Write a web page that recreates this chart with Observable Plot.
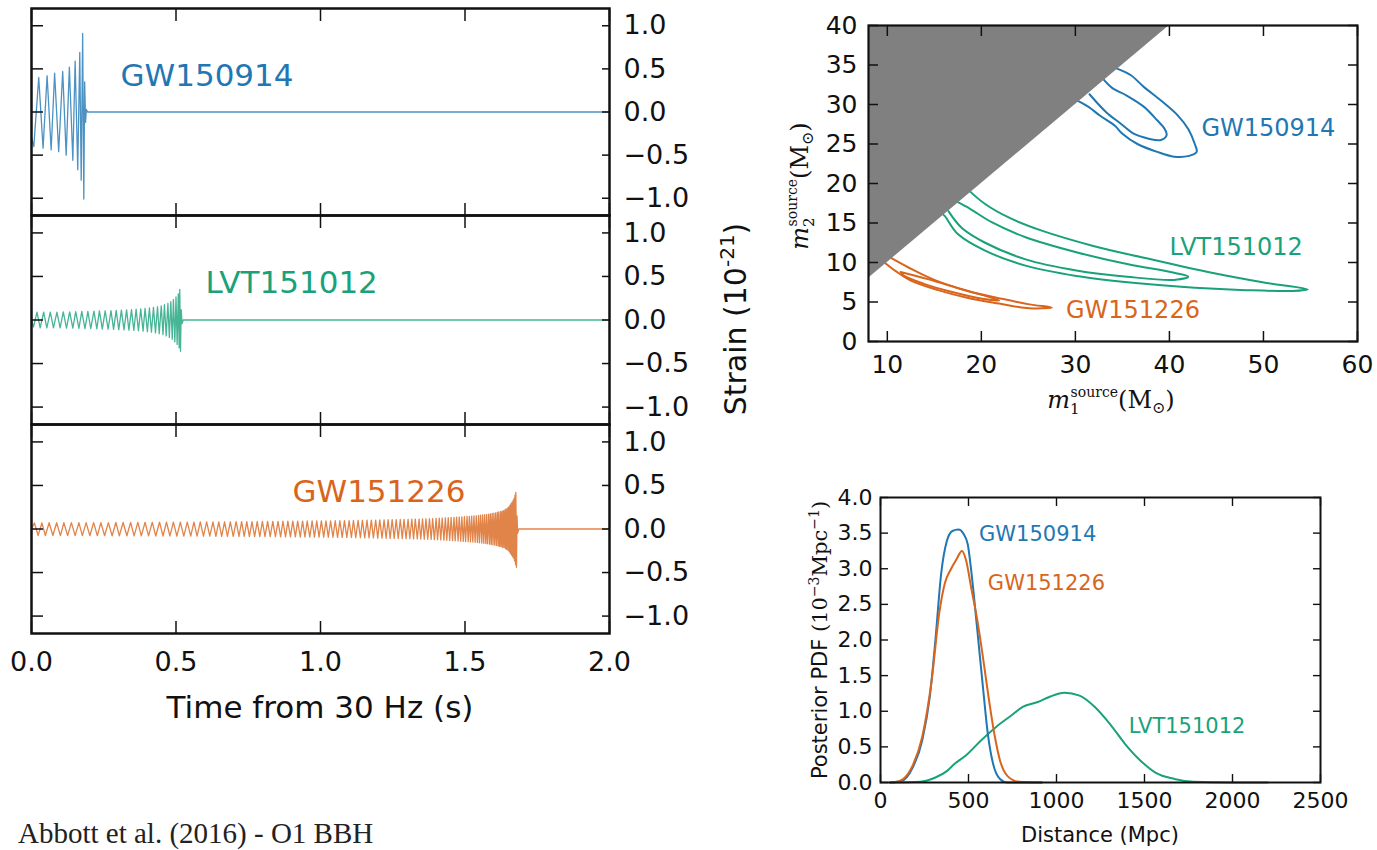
<!DOCTYPE html>
<html><head><meta charset="utf-8">
<script src="https://cdn.jsdelivr.net/npm/d3@7"></script>
<script src="https://cdn.jsdelivr.net/npm/@observablehq/plot@0.6"></script>
<style>
html,body{margin:0;padding:0;background:#fff;}
body{width:1377px;height:850px;overflow:hidden;position:relative;font-family:"DejaVu Sans";}
</style></head><body>
<script>
// ---------------- DATA ----------------
const BLUE = "#1f77b4", GREEN = "#19a27a", ORANGE = "#d9651c";
const waveXTicks = [0, 0.5, 1, 1.5, 2];
const waveYTicks = [-1, -0.5, 0, 0.5, 1];

// GW150914 waveform turning points (time s, strain 1e-21)
const gw150914T = [0, 0.008, 0.025, 0.040, 0.054, 0.068, 0.080, 0.094, 0.108, 0.120, 0.131, 0.143, 0.151, 0.160, 0.167, 0.172, 0.177, 0.181, 0.184, 0.187, 0.190, 0.194, 2.0];
const gw150914H = [-0.30, -0.40, 0.40, -0.42, 0.42, -0.44, 0.45, -0.46, 0.47, -0.50, 0.52, -0.56, 0.59, -0.67, 0.69, -0.79, 0.91, -1.01, 0.35, -0.12, 0.03, 0, 0];

// LVT151012 waveform turning points
const lvt151012T = [0, 0.007, 0.019, 0.030, 0.042, 0.053, 0.065, 0.076, 0.088, 0.099,
  0.110, 0.121, 0.132, 0.143, 0.153, 0.164, 0.174, 0.185, 0.195, 0.205,
  0.216, 0.226, 0.235, 0.245, 0.255, 0.265, 0.275, 0.284, 0.293, 0.302,
  0.311, 0.320, 0.329, 0.337, 0.346, 0.354, 0.362, 0.370, 0.378, 0.386,
  0.393, 0.401, 0.408, 0.415, 0.422, 0.429, 0.436, 0.442, 0.449, 0.455,
  0.460, 0.466, 0.472, 0.477, 0.482, 0.487, 0.491, 0.496, 0.500, 0.504,
  0.508, 0.511, 0.513, 0.5155, 0.518, 0.521, 0.525, 2.0];
const lvt151012H = [0, -0.08, 0.09, -0.09, 0.09, -0.09, 0.09, -0.09, 0.09, -0.09,
  0.092, -0.092, 0.094, -0.094, 0.096, -0.096, 0.098, -0.098, 0.1, -0.1,
  0.102, -0.102, 0.104, -0.104, 0.106, -0.106, 0.108, -0.108, 0.11, -0.11,
  0.113, -0.113, 0.116, -0.116, 0.12, -0.12, 0.124, -0.124, 0.128, -0.128,
  0.133, -0.133, 0.138, -0.14, 0.145, -0.148, 0.153, -0.157, 0.163, -0.168,
  0.175, -0.182, 0.19, -0.2, 0.21, -0.22, 0.235, -0.25, 0.265, -0.28,
  0.30, -0.32, 0.35, -0.36, 0.12, -0.04, 0, 0];

// GW151226 waveform turning points
const gw151226T = [0,
  0.010, 0.023, 0.036, 0.048, 0.061, 0.074, 0.087, 0.100, 0.112, 0.125,
  0.138, 0.151, 0.164, 0.176, 0.189, 0.202, 0.215, 0.228, 0.240, 0.253,
  0.266, 0.279, 0.292, 0.304, 0.317, 0.330, 0.343, 0.355, 0.368, 0.380,
  0.393, 0.405, 0.418, 0.430, 0.443, 0.455, 0.467, 0.479, 0.491, 0.503,
  0.515, 0.527, 0.539, 0.551,
  0.562, 0.573, 0.584, 0.595, 0.606, 0.617, 0.628, 0.638, 0.648, 0.658,
  0.668, 0.678, 0.688, 0.698, 0.708, 0.718, 0.727, 0.736, 0.745, 0.754,
  0.763, 0.772, 0.781, 0.790, 0.799, 0.808, 0.817, 0.826, 0.835, 0.844,
  0.853,
  0.862, 0.870, 0.879, 0.887, 0.896, 0.904, 0.913, 0.921, 0.930, 0.938,
  0.946, 0.954, 0.963, 0.971, 0.979, 0.987, 0.995, 1.003, 1.011, 1.019,
  1.027, 1.035, 1.043, 1.051, 1.059, 1.067, 1.075, 1.083, 1.091, 1.099,
  1.107, 1.114, 1.122, 1.130, 1.138, 1.145, 1.153, 1.161, 1.168, 1.176,
  1.183, 1.191, 1.198, 1.205, 1.213, 1.220, 1.227, 1.234, 1.241, 1.248,
  1.255, 1.262, 1.269, 1.276, 1.283, 1.289, 1.296, 1.303, 1.309, 1.316,
  1.322, 1.328, 1.335, 1.341, 1.347, 1.353, 1.359, 1.365, 1.371, 1.377,
  1.383, 1.388, 1.394, 1.400, 1.405, 1.411, 1.416, 1.421, 1.427, 1.432,
  1.437, 1.442, 1.447, 1.452,
  1.457, 1.462, 1.466, 1.471, 1.476, 1.480, 1.485, 1.489, 1.494, 1.498,
  1.502, 1.507, 1.511, 1.515, 1.519, 1.523, 1.527, 1.531, 1.535, 1.539,
  1.543, 1.547, 1.550, 1.554, 1.558, 1.561, 1.565, 1.568, 1.572, 1.575,
  1.578, 1.582, 1.585, 1.588, 1.591, 1.594, 1.597, 1.600, 1.603, 1.606,
  1.609, 1.612, 1.615, 1.617, 1.620, 1.623, 1.625, 1.628, 1.630, 1.633,
  1.635, 1.638, 1.640, 1.642, 1.644, 1.647, 1.649, 1.651, 1.653, 1.655,
  1.657, 1.659, 1.661, 1.663, 1.665, 1.667, 1.669, 1.670, 1.672, 1.673,
  1.675, 1.676,
  1.678, 1.680, 1.682, 1.686, 2.0];
const gw151226H = [0,
  0.07, -0.075, 0.07, -0.075, 0.072, -0.075, 0.072, -0.076, 0.072, -0.076,
  0.073, -0.076, 0.073, -0.076, 0.073, -0.077, 0.074, -0.077, 0.074, -0.077,
  0.074, -0.078, 0.075, -0.078, 0.075, -0.078, 0.076, -0.079, 0.076, -0.079,
  0.077, -0.079, 0.077, -0.08, 0.078, -0.08, 0.078, -0.08, 0.079, -0.081,
  0.079, -0.081, 0.08, -0.082,
  0.08, -0.082, 0.081, -0.083, 0.081, -0.083, 0.082, -0.084, 0.082, -0.084,
  0.083, -0.085, 0.083, -0.085, 0.084, -0.086, 0.084, -0.086, 0.085, -0.087,
  0.085, -0.087, 0.086, -0.088, 0.086, -0.088, 0.087, -0.089, 0.087, -0.089,
  0.088,
  -0.09, 0.089, -0.09, 0.09, -0.091, 0.09, -0.091, 0.091, -0.092, 0.091,
  -0.092, 0.092, -0.093, 0.092, -0.093, 0.093, -0.094, 0.093, -0.094, 0.094,
  -0.095, 0.094, -0.095, 0.095, -0.096, 0.095, -0.096, 0.096, -0.097, 0.097,
  -0.098, 0.098, -0.099, 0.099, -0.1, 0.1, -0.101, 0.101, -0.102, 0.102,
  -0.103, 0.103, -0.104, 0.104, -0.105, 0.105, -0.106, 0.106, -0.107, 0.107,
  -0.108, 0.108, -0.109, 0.109, -0.11, 0.11, -0.111, 0.111, -0.112, 0.112,
  -0.113, 0.113, -0.114, 0.114, -0.115, 0.115, -0.116, 0.116, -0.118, 0.118,
  -0.12, 0.12, -0.122, 0.122, -0.124, 0.124, -0.126, 0.126, -0.128, 0.128,
  -0.13, 0.13, -0.132, 0.132,
  -0.134, 0.134, -0.136, 0.136, -0.138, 0.138, -0.14, 0.14, -0.142, 0.142,
  -0.144, 0.144, -0.146, 0.146, -0.148, 0.148, -0.15, 0.15, -0.152, 0.152,
  -0.155, 0.155, -0.158, 0.158, -0.161, 0.161, -0.164, 0.164, -0.167, 0.167,
  -0.17, 0.17, -0.174, 0.174, -0.178, 0.178, -0.182, 0.182, -0.186, 0.186,
  -0.19, 0.19, -0.195, 0.195, -0.2, 0.2, -0.205, 0.205, -0.21, 0.21,
  -0.215, 0.22, -0.225, 0.23, -0.235, 0.24, -0.245, 0.25, -0.26, 0.27,
  -0.28, 0.29, -0.3, 0.31, -0.32, 0.33, -0.34, 0.35, -0.37, 0.39,
  -0.41, 0.42,
  -0.44, 0.15, -0.05, 0, 0];

// Mass contours [m1, m2] (solar masses)
const massXTicks = [10, 20, 30, 40, 50, 60];
const massYTicks = [0, 5, 10, 15, 20, 25, 30, 35, 40];
const forbiddenRegion = [{m1: 8, lo: 8, hi: 40}, {m1: 40, lo: 40, hi: 40}];
const gw150914Outer = [[34.3,34.6],[35.9,33.7],[37.3,32.2],[39.1,30.5],[40.9,28.6],[42.0,26.9],[42.7,25.0],[42.9,24.0],[42.1,23.5],[40.5,23.4],[38.7,24.0],[36.6,25.0],[35.0,26.3],[34.2,27.3],[32.6,28.6],[31.4,29.7],[30.2,30.5]];
const gw150914Inner = [[32.9,33.3],[33.9,32.1],[35.5,31.1],[37.3,29.7],[38.7,28.0],[39.5,26.9],[39.7,26.1],[39.1,25.5],[37.7,25.7],[36.2,26.3],[34.8,27.6],[33.3,29.0],[31.5,31.3]];
const lvt151012Outer = [[18.7,19.1],[20.4,17.4],[22.9,15.7],[26.5,14.0],[31.9,12.1],[37.3,10.6],[44.5,8.7],[49.9,7.5],[54.7,6.6],[53.1,6.4],[48.1,6.5],[42.7,6.8],[37.3,7.3],[30.1,8.3],[24.7,9.6],[20.4,11.5],[17.5,13.6],[16.1,15.9],[15.7,16.3]];
const lvt151012Inner = [[17.4,17.7],[18.8,16.8],[21.1,15.1],[24.7,13.2],[30.1,11.3],[35.5,9.8],[40.5,8.7],[42.0,8.2],[40.5,7.8],[35.5,8.2],[30.1,9.0],[24.7,10.4],[20.4,12.5],[17.9,14.4],[16.5,16.5]];
const gw151226Outer = [[10.2,10.7],[12.2,9.4],[15.0,7.8],[18.6,6.4],[22.2,5.4],[25.1,4.7],[27.5,4.3],[25.1,4.2],[21.9,4.8],[18.6,5.5],[15.4,6.5],[12.5,7.7],[10.9,8.9],[9.6,10.1]];
const gw151226Inner = [[11.4,8.8],[14.3,7.9],[17.9,6.6],[21.9,5.2],[20.1,5.4],[16.8,6.3],[13.9,7.3],[11.8,8.3],[11.4,8.8]];

// Distance posteriors (Mpc, 1e-3 / Mpc)
const distXTicks = [0, 500, 1000, 1500, 2000, 2500];
const distYTicks = [0, 0.5, 1, 1.5, 2, 2.5, 3, 3.5, 4];
const gw150914D = [54, 118, 183, 237, 280, 312, 345, 377, 409, 442, 474, 496, 517, 550, 582, 610, 640, 679, 722, 916];
const gw150914P = [0, 0.02, 0.21, 0.59, 1.20, 2.0, 2.94, 3.39, 3.53, 3.55, 3.48, 3.34, 2.94, 2.14, 1.34, 0.68, 0.26, 0.05, 0, 0];
const gw151226D = [75, 129, 183, 237, 291, 334, 366, 399, 431, 463, 485, 517, 550, 582, 614, 647, 679, 722, 787, 916];
const gw151226P = [0, 0.05, 0.24, 0.64, 1.44, 2.38, 2.80, 2.99, 3.13, 3.25, 3.13, 2.71, 2.28, 1.76, 1.20, 0.68, 0.31, 0.09, 0.01, 0];
const lvt151012D = [54, 226, 312, 377, 420, 485, 571, 657, 743, 808, 894, 959, 1045, 1131, 1218, 1304, 1390, 1476, 1562, 1670, 1778, 1993, 2200];
const lvt151012P = [0, 0.01, 0.07, 0.16, 0.26, 0.38, 0.59, 0.78, 0.94, 1.06, 1.13, 1.2, 1.26, 1.22, 1.06, 0.82, 0.54, 0.31, 0.14, 0.05, 0.01, 0, 0];

// ---------------- RENDER ----------------
const fmt1 = d => (d < 0 ? "\u2212" : "") + Math.abs(d).toFixed(1);
const fmtInt = d => String(d);
const blank = () => "";
const FONT = "DejaVu Sans";

function place(svg, left, top) {
  svg.style.position = "absolute";
  svg.style.left = left + "px";
  svg.style.top = top + "px";
  document.body.appendChild(svg);
}

function wavePanel(T, H, color, label, labelT, frameTop, frameH, showX) {
  const n = Math.min(T.length, H.length);
  const rows = d3.range(n).map(i => ({t: T[i], h: H[i]}));
  const mb = showX ? 70 : 4;
  const svg = Plot.plot({
    width: 770, height: frameH + 4 + mb,
    marginLeft: 31, marginRight: 161, marginTop: 4, marginBottom: mb,
    x: {domain: [0, 2], axis: null}, y: {domain: [-1.2, 1.2], axis: null},
    style: {background: "none", overflow: "visible", fontFamily: FONT, color: "#111"},
    marks: [
      Plot.line(rows, {x: "t", y: "h", stroke: color, strokeWidth: 1.3, strokeOpacity: 0.8}),
      Plot.text([label], {x: () => labelT, y: () => 0.42, text: d => d, fill: color, fontSize: 31, textAnchor: "start", lineAnchor: "middle"}),
      Plot.axisY(waveYTicks, {anchor: "right", tickSize: -8, tickPadding: 22, tickFormat: fmt1, fontSize: 27, label: null, strokeWidth: 1.5}),
      Plot.axisY(waveYTicks, {anchor: "left", tickSize: -12, tickFormat: blank, label: null, strokeWidth: 1.5}),
      Plot.axisX(waveXTicks, {anchor: "top", tickSize: -12, tickFormat: blank, label: null, strokeWidth: 1.5}),
      Plot.axisX(waveXTicks, {anchor: "bottom", tickSize: -12, tickPadding: 30, tickFormat: showX ? fmt1 : blank, fontSize: 27, label: null, strokeWidth: 1.5}),
      Plot.frame({stroke: "#111", strokeWidth: 2.5})
    ]
  });
  place(svg, 0, frameTop - 4);
}

wavePanel(gw150914T, gw150914H, BLUE, "GW150914", 0.308, 8, 207, false);
wavePanel(lvt151012T, lvt151012H, GREEN, "LVT151012", 0.602, 215, 209, false);
wavePanel(gw151226T, gw151226H, ORANGE, "GW151226", 0.903, 424, 209, true);

// Mass plane
const toRows = (arr, id) => arr.map(([m1, m2]) => ({m1, m2, id}));
const contourMark = (a, b, color) => Plot.line([...toRows(a, "outer"), ...toRows(b, "inner")],
  {x: "m1", y: "m2", z: "id", stroke: color, strokeWidth: 2, curve: "catmull-rom"});
const massSvg = Plot.plot({
  width: 617, height: 420,
  marginLeft: 108, marginRight: 20, marginTop: 25, marginBottom: 79,
  x: {domain: [8, 60], axis: null}, y: {domain: [0, 40], axis: null},
  style: {background: "none", overflow: "visible", fontFamily: FONT, color: "#111"},
  marks: [
    contourMark(gw150914Outer, gw150914Inner, BLUE),
    contourMark(lvt151012Outer, lvt151012Inner, GREEN),
    contourMark(gw151226Outer, gw151226Inner, ORANGE),
    Plot.areaY(forbiddenRegion, {x: "m1", y1: "lo", y2: "hi", fill: "#808080"}),
    Plot.text(["GW150914"], {x: () => 43.4, y: () => 27.0, text: d => d, fill: BLUE, fontSize: 24, textAnchor: "start", lineAnchor: "middle"}),
    Plot.text(["LVT151012"], {x: () => 40.0, y: () => 11.9, text: d => d, fill: GREEN, fontSize: 24, textAnchor: "start", lineAnchor: "middle"}),
    Plot.text(["GW151226"], {x: () => 29.0, y: () => 3.9, text: d => d, fill: ORANGE, fontSize: 24, textAnchor: "start", lineAnchor: "middle"}),
    Plot.axisY(massYTicks, {anchor: "left", tickSize: -10, tickPadding: 21, fontSize: 25, label: null, strokeWidth: 1.5}),
    Plot.axisY(massYTicks, {anchor: "right", tickSize: -10, tickFormat: blank, label: null, strokeWidth: 1.5}),
    Plot.axisX(massXTicks, {anchor: "bottom", tickSize: -10, tickPadding: 24, fontSize: 25, label: null, strokeWidth: 1.5}),
    Plot.axisX(massXTicks, {anchor: "top", tickSize: -10, tickFormat: blank, label: null, strokeWidth: 1.5}),
    Plot.frame({stroke: "#111", strokeWidth: 2.2})
  ]
});
place(massSvg, 760, 0);

// Distance posteriors
const pdfRows = (D, P) => d3.range(Math.min(D.length, P.length)).map(i => ({d: D[i], p: P[i]}));
const distSvg = Plot.plot({
  width: 617, height: 380,
  marginLeft: 120, marginRight: 57, marginTop: 27, marginBottom: 68,
  x: {domain: [0, 2500], axis: null}, y: {domain: [0, 4], axis: null},
  style: {background: "none", overflow: "visible", fontFamily: FONT, color: "#111"},
  marks: [
    Plot.line(pdfRows(lvt151012D, lvt151012P), {x: "d", y: "p", stroke: GREEN, strokeWidth: 2, curve: "monotone-x"}),
    Plot.line(pdfRows(gw150914D, gw150914P), {x: "d", y: "p", stroke: BLUE, strokeWidth: 2, curve: "monotone-x"}),
    Plot.line(pdfRows(gw151226D, gw151226P), {x: "d", y: "p", stroke: ORANGE, strokeWidth: 2, curve: "monotone-x"}),
    Plot.text(["GW150914"], {x: () => 560, y: () => 3.49, text: d => d, fill: BLUE, fontSize: 21, textAnchor: "start", lineAnchor: "middle"}),
    Plot.text(["GW151226"], {x: () => 610, y: () => 2.79, text: d => d, fill: ORANGE, fontSize: 21, textAnchor: "start", lineAnchor: "middle"}),
    Plot.text(["LVT151012"], {x: () => 1410, y: () => 0.79, text: d => d, fill: GREEN, fontSize: 21, textAnchor: "start", lineAnchor: "middle"}),
    Plot.axisY(distYTicks, {anchor: "left", tickSize: -8, tickPadding: 16, tickFormat: fmt1, fontSize: 22, label: null, strokeWidth: 1.4}),
    Plot.axisY(distYTicks, {anchor: "right", tickSize: -8, tickFormat: blank, label: null, strokeWidth: 1.4}),
    Plot.axisX(distXTicks, {anchor: "bottom", tickSize: -8, tickPadding: 18, tickFormat: fmtInt, fontSize: 22, label: null, strokeWidth: 1.4}),
    Plot.axisX(distXTicks, {anchor: "top", tickSize: -8, tickFormat: blank, label: null, strokeWidth: 1.4}),
    Plot.frame({stroke: "#111", strokeWidth: 2})
  ]
});
place(distSvg, 760, 470);

// ---------------- TEXT LABELS (overlay) ----------------
const ov = d3.select("body").append("svg")
  .attr("width", 1377).attr("height", 850)
  .style("position", "absolute").style("left", "0px").style("top", "0px")
  .style("pointer-events", "none").style("overflow", "hidden");

// Strain label
const st = ov.append("text").attr("transform", "translate(746,319) rotate(-90)")
  .attr("text-anchor", "middle").attr("font-family", FONT).attr("font-size", 30).attr("fill", "#111");
st.append("tspan").text("Strain (10");
st.append("tspan").attr("dy", -12).attr("font-size", 20).text("-21");
st.append("tspan").attr("dy", 12).text(")");

// Time label
ov.append("text").attr("x", 320).attr("y", 718).attr("text-anchor", "middle")
  .attr("font-family", FONT).attr("font-size", 31).attr("fill", "#111").text("Time from 30 Hz (s)");

// mass labels
function massLabel(sel, idx) {
  sel.attr("font-family", "DejaVu Serif").attr("font-size", 24).attr("fill", "#111").attr("text-anchor", "middle");
  sel.append("tspan").attr("font-style", "italic").text("m");
  sel.append("tspan").attr("dy", 6).attr("font-size", 15).text(idx);
  sel.append("tspan").attr("dx", -9).attr("dy", -17).attr("font-size", 14).text("source");
  sel.append("tspan").attr("dy", 11).text("(M");
  sel.append("tspan").attr("dy", 5).attr("font-size", 16).text("\u2299");
  sel.append("tspan").attr("dy", -5).text(")");
}
massLabel(ov.append("text").attr("transform", "translate(808,186) rotate(-90)"), "2");
massLabel(ov.append("text").attr("transform", "translate(1111,408)"), "1");

// PDF labels
const pl = ov.append("text").attr("transform", "translate(827,640) rotate(-90)")
  .attr("text-anchor", "middle").attr("font-family", FONT).attr("font-size", 21).attr("fill", "#111");
pl.append("tspan").text("Posterior PDF ");
pl.append("tspan").attr("font-family", "DejaVu Serif").text("(10");
pl.append("tspan").attr("font-family", "DejaVu Serif").attr("dy", -8).attr("font-size", 14).text("\u22123");
pl.append("tspan").attr("font-family", "DejaVu Serif").attr("dy", 8).text("Mpc");
pl.append("tspan").attr("font-family", "DejaVu Serif").attr("dy", -8).attr("font-size", 14).text("\u22121");
pl.append("tspan").attr("font-family", "DejaVu Serif").attr("dy", 8).text(")");

ov.append("text").attr("x", 1100).attr("y", 842).attr("text-anchor", "middle")
  .attr("font-family", FONT).attr("font-size", 21).attr("fill", "#111").text("Distance (Mpc)");

// Caption
ov.append("text").attr("x", 18).attr("y", 843).attr("font-family", "Liberation Serif")
  .attr("font-size", 29).attr("fill", "#222").text("Abbott et al. (2016) - O1 BBH");
</script>
</body></html>
